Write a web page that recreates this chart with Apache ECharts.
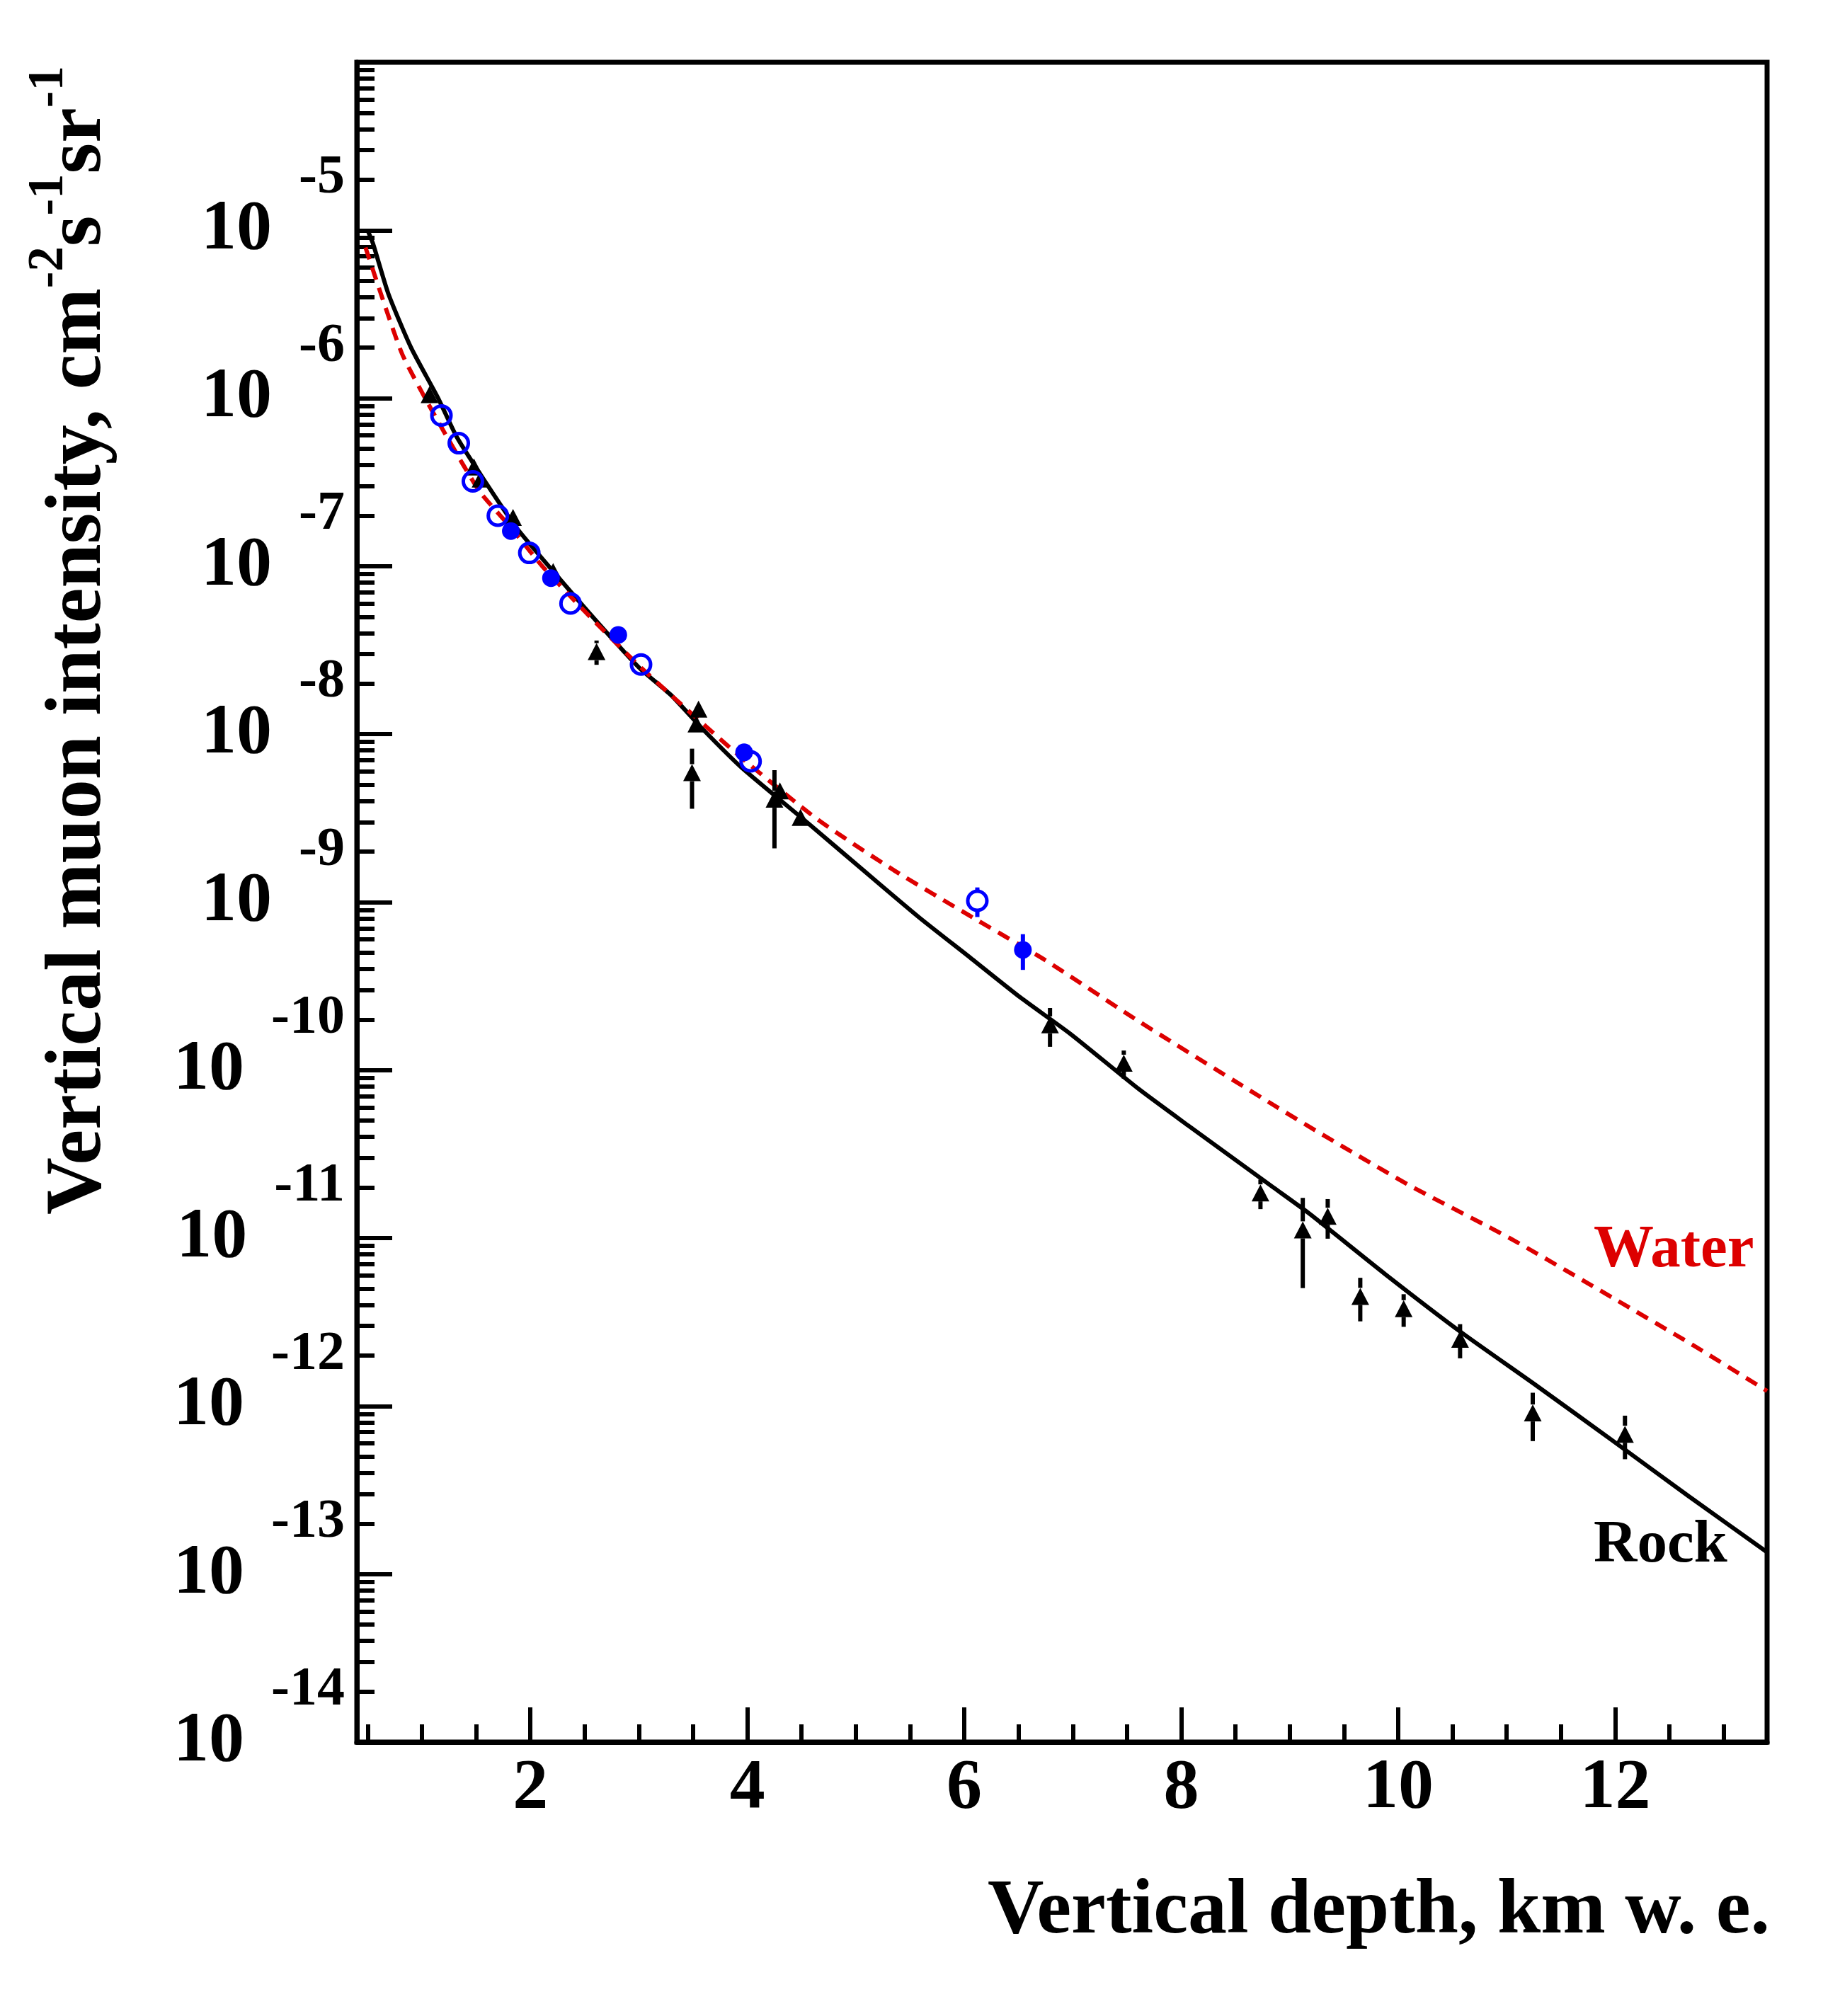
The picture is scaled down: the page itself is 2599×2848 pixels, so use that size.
<!DOCTYPE html>
<html>
<head>
<meta charset="utf-8">
<script src="https://cdn.jsdelivr.net/npm/echarts@6.0.0/dist/echarts.min.js"></script>
<style>
  html, body { margin: 0; padding: 0; background: #fff; }
  #chart { width: 2599px; height: 2848px; }
</style>
</head>
<body>
<div id="chart"></div>
<script>
// 암석(Rock) 이론 곡선
const rockDepth = [0.50, 0.55, 0.69, 0.90, 1.15, 1.32, 1.61, 1.87, 2.25, 2.65, 3.00, 3.30, 3.59, 3.95, 4.56, 5.16, 5.585, 6.05, 6.52, 6.98, 7.61, 8.06, 8.85, 9.18, 9.88, 10.58, 11.27, 11.98, 12.68, 13.40];
const rockFlux = [1.0e-5, 8.3e-6, 4.2e-6, 2.0e-6, 1.0e-6, 5.9e-7, 3.0e-7, 1.7e-7, 8.7e-8, 4.4e-8, 2.5e-8, 1.7e-8, 1.07e-8, 6.3e-9, 2.95e-9, 1.38e-9, 8.1e-10, 4.7e-10, 2.7e-10, 1.64e-10, 7.7e-11, 4.7e-11, 2.0e-11, 1.40e-11, 6.1e-12, 2.75e-12, 1.33e-12, 6.2e-13, 2.9e-13, 1.35e-13];

// 물(Water) 이론 곡선
const waterDepth = [0.48, 0.65, 0.82, 1.03, 1.23, 1.53, 1.82, 2.11, 2.55, 2.99, 3.30, 3.95, 4.65, 5.35, 6.05, 6.75, 7.61, 8.85, 9.27, 10.11, 11.04, 11.98, 12.72, 13.40];
const waterFlux = [7.9e-6, 3.7e-6, 1.82e-6, 1.0e-6, 5.9e-7, 2.8e-7, 1.7e-7, 1.0e-7, 5.0e-8, 2.6e-8, 1.7e-8, 7.2e-9, 3.1e-9, 1.55e-9, 8.3e-10, 4.5e-10, 1.95e-10, 6.2e-11, 4.25e-11, 2.05e-11, 9.9e-12, 4.4e-12, 2.3e-12, 1.23e-12];

// 삼각형 측정점 (오차는 상대값)
const triDepth = [1.07, 1.48, 1.54, 1.84, 2.21, 2.61, 3.55, 3.53, 3.49, 4.30, 4.25, 4.49, 6.79, 7.47, 8.73, 9.12, 9.35, 9.65, 10.05, 10.57, 11.24, 12.09];
const triFlux = [1.05e-6, 3.9e-7, 3.3e-7, 1.95e-7, 9.3e-8, 3.1e-8, 1.41e-8, 1.15e-8, 5.9e-9, 4.6e-9, 4.1e-9, 3.2e-9, 1.86e-10, 1.10e-10, 1.86e-11, 1.12e-11, 1.35e-11, 4.5e-12, 3.8e-12, 2.5e-12, 9.1e-13, 6.8e-13];
const triErr = [0, 0, 0, 0, 0, 0.165, 0, 0, 0.39, 0, 0.49, 0, 0.26, 0.19, 0.2, 0.55, 0.265, 0.29, 0.22, 0.23, 0.32, 0.29];

// 파란 빈 원
const openDepth = [1.18, 1.34, 1.47, 1.70, 1.99, 2.37, 3.02, 4.03, 6.12];
const openFlux = [7.9e-7, 5.4e-7, 3.2e-7, 2.0e-7, 1.2e-7, 6.0e-8, 2.6e-8, 6.9e-9, 1.02e-9];
const openErr = [0, 0, 0, 0, 0, 0, 0, 0, 0.2];

// 파란 채운 원
const fillDepth = [1.82, 2.19, 2.81, 3.97, 6.54];
const fillFlux = [1.62e-7, 8.5e-8, 3.9e-8, 7.8e-9, 5.2e-10];
const fillErr = [0.08, 0.08, 0.1, 0.08, 0.24];

// 축 눈금
const xMajor = [2, 4, 6, 8, 10, 12];
const xMinor = [0.5, 1, 1.5, 2, 2.5, 3, 3.5, 4, 4.5, 5, 5.5, 6, 6.5, 7, 7.5, 8, 8.5, 9, 9.5, 10, 10.5, 11, 11.5, 12, 12.5, 13];
const yMajor = [1e-14, 1e-13, 1e-12, 1e-11, 1e-10, 1e-9, 1e-8, 1e-7, 1e-6, 1e-5, 1e-4];
const yLabels = [1e-14, 1e-13, 1e-12, 1e-11, 1e-10, 1e-9, 1e-8, 1e-7, 1e-6, 1e-5];
const yMinor = [];
for (let n = -14; n < -4; n++) {
	for (let k = 2; k <= 9; k++) yMinor.push(k * Math.pow(10, n));
}

const FONT = '"Liberation Serif", "DejaVu Serif", serif';
const BLACK = '#000000';
const BLUE = '#0000ff';
const RED = '#dd0000';

const pairs = (xs, ys) => xs.map((x, i) => [x, ys[i]]);
const triples = (xs, ys, es) => xs.map((x, i) => [x, ys[i], es[i]]);

// 오차 막대 (마커 주변은 비워둔다)
function errBar(color, gap) {
	return function(params, api) {
		const x = api.value(0), y = api.value(1), r = api.value(2);
		const c = api.coord([x, y]);
		const hi = api.coord([x, y * (1 + r)]);
		const lo = api.coord([x, y * (1 - r)]);
		const st = { stroke: color, lineWidth: 6 };
		const children = [];
		if (c[1] - hi[1] > gap) {
			children.push({ type: 'line', shape: { x1: c[0], y1: hi[1], x2: c[0], y2: c[1] - gap }, style: st });
		}
		if (lo[1] - c[1] > gap) {
			children.push({ type: 'line', shape: { x1: c[0], y1: c[1] + gap, x2: c[0], y2: lo[1] }, style: st });
		}
		return { type: 'group', children: children };
	};
}

const tickStyle = { color: BLACK, width: 6 };

const option = {
	animation: false,
	backgroundColor: '#ffffff',
	textStyle: { fontFamily: FONT, fontWeight: 'bold', color: BLACK },
	grid: {
		left: 504, right: 103, top: 88, bottom: 387,
		show: true, borderColor: BLACK, borderWidth: 7,
		outerBoundsMode: 'none',
	},
	xAxis: [
		{
			type: 'value', min: 0.4, max: 13.4, position: 'bottom',
			axisLine: { lineStyle: { color: BLACK, width: 7 } },
			axisTick: { show: true, inside: true, length: 49, customValues: xMajor, lineStyle: tickStyle },
			axisLabel: {
				customValues: xMajor, margin: 16, color: BLACK,
				fontFamily: FONT, fontWeight: 'bold', fontSize: 100,
			},
			splitLine: { show: false },
			name: 'Vertical depth, km w. e.',
			nameLocation: 'end', nameGap: 4, nameMoveOverlap: false,
			nameTextStyle: {
				fontFamily: FONT, fontWeight: 'bold', fontSize: 110, lineHeight: 110, color: BLACK,
				align: 'right', verticalAlign: 'top', padding: [186, 0, 0, 0],
			},
		},
		{
			type: 'value', min: 0.4, max: 13.4, position: 'bottom',
			axisLine: { show: false },
			axisTick: { show: true, inside: true, length: 25, customValues: xMinor, lineStyle: tickStyle },
			axisLabel: { show: false },
			splitLine: { show: false },
		},
	],
	yAxis: [
		{
			type: 'log', logBase: 10, min: 1e-14, max: 1e-4, position: 'left',
			axisLine: { lineStyle: { color: BLACK, width: 7 } },
			axisTick: { show: true, inside: true, length: 50, customValues: yMajor, lineStyle: tickStyle },
			axisLabel: {
				customValues: yLabels, margin: 17, color: BLACK,
				formatter: function(v) {
					const e = Math.round(Math.log10(v));
					return '{b|10}{s|' + e + '}';
				},
				rich: {
					b: { fontFamily: FONT, fontWeight: 'bold', fontSize: 100, lineHeight: 224, verticalAlign: 'middle', color: BLACK },
					s: { fontFamily: FONT, fontWeight: 'bold', fontSize: 78, lineHeight: 78, verticalAlign: 'top', padding: [0, 0, 0, 38], color: BLACK },
				},
			},
			splitLine: { show: false },
			name: '{m|Vertical muon intensity, cm}{s|-2}{m|s}{s|-1}{m|sr}{s|-1}',
			nameLocation: 'end', nameRotate: 90, nameGap: -5, nameMoveOverlap: false,
			nameTextStyle: {
				color: BLACK, align: 'right', verticalAlign: 'bottom', padding: [0, 0, 313, 0],
				rich: {
					m: { fontFamily: FONT, fontWeight: 'bold', fontSize: 112, lineHeight: 157, verticalAlign: 'middle', color: BLACK },
					s: { fontFamily: FONT, fontWeight: 'bold', fontSize: 71, lineHeight: 71, verticalAlign: 'top', color: BLACK },
				},
			},
		},
		{
			type: 'log', logBase: 10, min: 1e-14, max: 1e-4, position: 'left', offset: 0,
			axisLine: { show: false },
			axisTick: { show: true, inside: true, length: 25, customValues: yMinor, lineStyle: tickStyle },
			axisLabel: { show: false },
			splitLine: { show: false },
		},
	],
	graphic: [
		{
			type: 'text', x: 2251, y: 1767,
			style: { text: 'Water', font: 'bold 85px ' + FONT, fill: RED, align: 'left', verticalAlign: 'middle', textAlign: 'left', textVerticalAlign: 'middle' },
		},
		{
			type: 'text', x: 2251, y: 2184,
			style: { text: 'Rock', font: 'bold 85px ' + FONT, fill: BLACK, align: 'left', verticalAlign: 'middle', textAlign: 'left', textVerticalAlign: 'middle' },
		},
	],
	series: [
		{
			name: 'Rock', type: 'line', data: pairs(rockDepth, rockFlux),
			showSymbol: false, smooth: 0.2, z: 2,
			lineStyle: { color: BLACK, width: 6 },
		},
		{
			name: 'Water', type: 'line', data: pairs(waterDepth, waterFlux),
			showSymbol: false, smooth: 0.2, z: 2,
			lineStyle: { color: RED, width: 6, type: [18, 12] },
		},
		{
			type: 'custom', renderItem: errBar(BLACK, 12), data: triples(triDepth, triFlux, triErr),
			encode: { x: 0, y: 1 }, z: 3,
		},
		{
			type: 'custom', renderItem: errBar(BLUE, 15), data: triples(openDepth, openFlux, openErr),
			encode: { x: 0, y: 1 }, z: 3,
		},
		{
			type: 'custom', renderItem: errBar(BLUE, 12), data: triples(fillDepth, fillFlux, fillErr),
			encode: { x: 0, y: 1 }, z: 3,
		},
		{
			type: 'scatter', data: pairs(triDepth, triFlux), z: 4,
			symbol: 'triangle', symbolSize: [25, 24],
			itemStyle: { color: BLACK, opacity: 1 },
		},
		{
			type: 'scatter', data: pairs(fillDepth, fillFlux), z: 4,
			symbol: 'circle', symbolSize: 25,
			itemStyle: { color: BLUE, opacity: 1 },
		},
		{
			type: 'scatter', data: pairs(openDepth, openFlux), z: 4,
			symbol: 'circle', symbolSize: 27,
			itemStyle: { color: 'rgba(0,0,0,0)', borderColor: BLUE, borderWidth: 5, opacity: 1 },
		},
	],
};

const myChart = echarts.init(document.getElementById('chart'), null, { renderer: 'canvas' });
myChart.setOption(option);
window.addEventListener('resize', myChart.resize);
</script>
</body>
</html>
